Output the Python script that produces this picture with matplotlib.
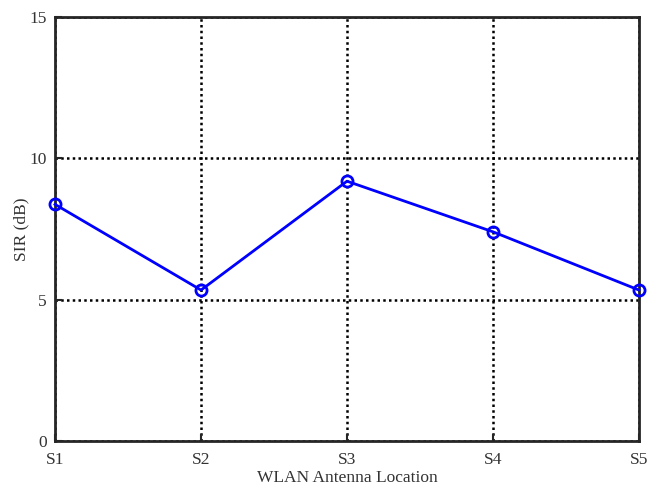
import matplotlib
matplotlib.use('Agg')
import matplotlib.pyplot as plt

# data
locations = ['S1', 'S2', 'S3', 'S4', 'S5']
sir_db = [8.37, 5.34, 9.19, 7.40, 5.34]
y_ticks = [0, 5, 10, 15]

plt.rcParams['font.family'] = ['Liberation Serif', 'DejaVu Serif']

fig = plt.figure(figsize=(6.52, 4.84), dpi=100)
ax = fig.add_axes([0.0844, 0.0888, 0.8956, 0.8762])

x = list(range(len(locations)))
ax.plot(x, sir_db, color='#0000ff', lw=2, marker='o', ms=8,
        mfc='none', mew=2, zorder=3, clip_on=False)

ax.set_xlim(0, len(locations) - 1)
ax.set_ylim(0, 15)
ax.set_xticks(x)
ax.set_xticklabels(locations)
ax.set_yticks(y_ticks)

ax.grid(True, color='black', linestyle=(0, (1, 1.3)), linewidth=1.8)
for s in ax.spines.values():
  s.set_linewidth(2)
  s.set_color('#262626')
ax.tick_params(direction='in', length=5, width=1.5, colors='#262626',
               labelsize=12.5, labelcolor='#333333')
ax.tick_params(axis='y', pad=6)
ax.tick_params(axis='x', pad=8)

ax.set_xlabel('WLAN Antenna Location', fontsize=12.5, color='#333333', labelpad=1)
ax.set_ylabel('SIR (dB)', fontsize=12.5, color='#333333', labelpad=0)

fig.savefig('out.png', dpi=100)
